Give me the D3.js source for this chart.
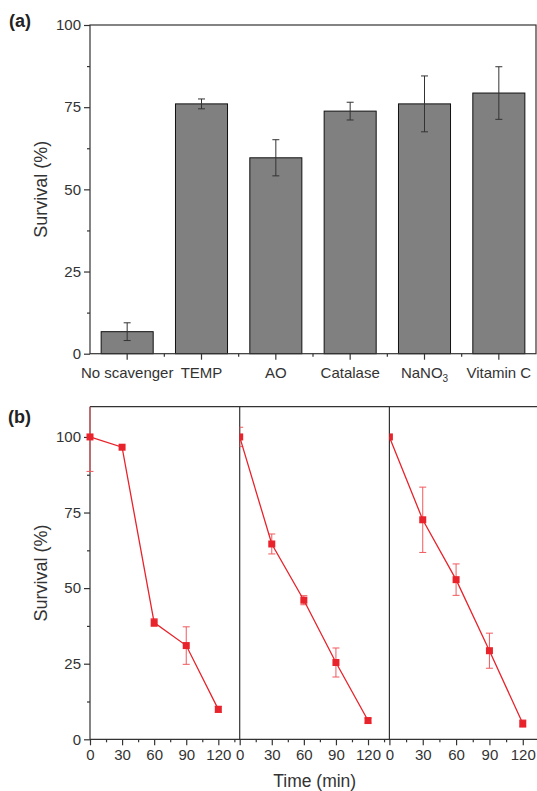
<!DOCTYPE html>
<html><head><meta charset="utf-8">
<script src="https://cdn.jsdelivr.net/npm/d3@7"></script>
<style>
html,body{margin:0;padding:0;background:#fff;}
svg text{font-family:"Liberation Sans",Arial,sans-serif;}
</style></head>
<body>
<script>
// ---- Data ----
const categories = ["No scavenger","TEMP","AO","Catalase","NaNO3","Vitamin C"];
const survivalA = [6.7, 76.0, 59.6, 73.8, 76.0, 79.3];
const errorA = [2.7, 1.5, 5.5, 2.7, 8.5, 8.0];
const yTicksA = [0, 25, 50, 75, 100];

const times = [0, 30, 60, 90, 120];
const xTicksB = [0, 30, 60, 90, 120];
const yTicksB = [0, 25, 50, 75, 100];
const series1 = [100, 96.6, 38.6, 31.0, 9.9];
const err1 = [11.4, 0, 1.3, 6.2, 1.0];
const series2 = [100, 64.6, 46.0, 25.4, 6.2];
const err2 = [3.2, 3.3, 1.5, 4.8, 0.8];
const series3 = [100, 72.6, 52.8, 29.3, 5.2];
const err3 = [0, 10.8, 5.2, 5.8, 1.2];

const W = 537, H = 791;
const svg = d3.select("body").append("svg").attr("width", W).attr("height", H);
const axisColor = "#333";
const textColor = "#333";
const fs = 15;

// ================= Panel (a) =================
const A = {left: 90, right: 536, top: 25, bottom: 353.7};
const xA = d3.scaleBand().domain(categories).range([A.left, A.right]).paddingInner(0.3).paddingOuter(0.15);
const yA = d3.scaleLinear().domain([0, 100]).range([A.bottom, A.top]);

const gA = svg.append("g");
gA.selectAll("rect.bar").data(categories).join("rect")
  .attr("x", d => xA(d)).attr("width", xA.bandwidth())
  .attr("y", (d, i) => yA(survivalA[i]))
  .attr("height", (d, i) => yA(0) - yA(survivalA[i]))
  .attr("fill", "#808080").attr("stroke", "#111").attr("stroke-width", 1);
categories.forEach((c, i) => {
  const cx = xA(c) + xA.bandwidth() / 2;
  const y1 = yA(survivalA[i] + errorA[i]), y2 = yA(survivalA[i] - errorA[i]);
  gA.append("line").attr("x1", cx).attr("x2", cx).attr("y1", y1).attr("y2", y2).attr("stroke", "#333").attr("stroke-width", 1);
  [y1, y2].forEach(y => gA.append("line").attr("x1", cx - 3.5).attr("x2", cx + 3.5).attr("y1", y).attr("y2", y).attr("stroke", "#333").attr("stroke-width", 1));
});
gA.append("rect").attr("x", A.left).attr("y", A.top).attr("width", A.right - A.left).attr("height", A.bottom - A.top)
  .attr("fill", "none").attr("stroke", axisColor).attr("stroke-width", 1.2);
const yAxisA = gA.append("g").attr("transform", `translate(${A.left},0)`)
  .call(d3.axisLeft(yA).tickValues(yTicksA).tickSize(6).tickPadding(3));
yAxisA.select(".domain").remove();
yAxisA.selectAll("line").attr("stroke", axisColor).attr("stroke-width", 1.2);
yAxisA.selectAll("text").attr("font-size", fs).attr("fill", textColor).style("font-family", '"Liberation Sans",Arial,sans-serif');
const yMinorA = gA.append("g").attr("transform", `translate(${A.left},0)`)
  .call(d3.axisLeft(yA).tickValues([12.5, 37.5, 62.5, 87.5]).tickSize(3).tickFormat(""));
yMinorA.select(".domain").remove();
yMinorA.selectAll("line").attr("stroke", axisColor).attr("stroke-width", 1.2);
const xAxisA = gA.append("g").attr("transform", `translate(0,${A.bottom})`)
  .call(d3.axisBottom(xA).tickSize(6).tickPadding(5).tickFormat(""));
xAxisA.select(".domain").remove();
xAxisA.selectAll("line").attr("stroke", axisColor).attr("stroke-width", 1.2);
const boundaries = categories.slice(1).map(c => xA(c) - xA.step() * xA.paddingInner() / 2);
gA.selectAll("line.minor").data(boundaries).join("line")
  .attr("x1", d => d).attr("x2", d => d).attr("y1", A.bottom).attr("y2", A.bottom + 3)
  .attr("stroke", axisColor).attr("stroke-width", 1.2);
categories.forEach(c => {
  const cx = xA(c) + xA.bandwidth() / 2;
  const t = gA.append("text").attr("x", cx).attr("y", A.bottom + 24.5).attr("text-anchor", "middle")
    .attr("font-size", fs).attr("fill", textColor);
  if (c === "NaNO3") {
    t.append("tspan").text("NaNO");
    t.append("tspan").text("3").attr("font-size", 10).attr("dy", 4);
  } else t.text(c);
});
gA.append("text").attr("transform", `translate(47,${(A.top + A.bottom) / 2}) rotate(-90)`)
  .attr("text-anchor", "middle").attr("font-size", 18).attr("fill", textColor).text("Survival (%)");
gA.append("text").attr("x", 9).attr("y", 27).attr("font-size", 18).attr("font-weight", "bold").attr("fill", "#222").text("(a)");

// ================= Panel (b) =================
const B = {top: 406.7, bottom: 739.3};
const panels = [
  {x0: 90, x1: 239.7, clipLeft: 84, data: series1, err: err1},
  {x0: 239.7, x1: 389.4, clipLeft: 239.7, data: series2, err: err2},
  {x0: 389.4, x1: 545, clipLeft: 389.4, data: series3, err: err3}
];
const yB = d3.scaleLinear().domain([0, 110]).range([B.bottom, B.top]);
const gB = svg.append("g");
const red = "#e8232b", redLight = "#f0595e";

gB.append("line").attr("x1", 90).attr("x2", W).attr("y1", B.top).attr("y2", B.top).attr("stroke", axisColor).attr("stroke-width", 1.2);
gB.append("line").attr("x1", 90).attr("x2", W).attr("y1", B.bottom).attr("y2", B.bottom).attr("stroke", axisColor).attr("stroke-width", 1.2);

// y axis (b)
const yAxisB = gB.append("g").attr("transform", `translate(90,0)`)
  .call(d3.axisLeft(yB).tickValues(yTicksB).tickSize(6).tickPadding(3));
yAxisB.select(".domain").remove();
yAxisB.selectAll("line").attr("stroke", axisColor).attr("stroke-width", 1.2);
yAxisB.selectAll("text").attr("font-size", fs).attr("fill", textColor).style("font-family", '"Liberation Sans",Arial,sans-serif');
const yMinorB = gB.append("g").attr("transform", `translate(90,0)`)
  .call(d3.axisLeft(yB).tickValues([12.5, 37.5, 62.5, 87.5]).tickSize(3).tickFormat(""));
yMinorB.select(".domain").remove();
yMinorB.selectAll("line").attr("stroke", axisColor).attr("stroke-width", 1.2);

panels.forEach((p, pi) => {
  const x = d3.scaleLinear().domain([0, 140]).range([p.x0, p.x1]);
  const g = gB.append("g");
  const clipId = "clip" + pi;
  g.append("clipPath").attr("id", clipId).append("rect")
    .attr("x", p.clipLeft).attr("y", B.top).attr("width", p.x1 - p.clipLeft).attr("height", B.bottom - B.top);
  g.append("line").attr("x1", p.x0).attr("x2", p.x0).attr("y1", B.top).attr("y2", B.bottom).attr("stroke", axisColor).attr("stroke-width", 1.2);
  const xa = g.append("g").attr("transform", `translate(0,${B.bottom})`)
    .call(d3.axisBottom(x).tickValues(xTicksB).tickSize(6).tickPadding(4));
  xa.select(".domain").remove();
  xa.selectAll("line").attr("stroke", axisColor).attr("stroke-width", 1.2);
  xa.selectAll("text").attr("font-size", fs).attr("fill", textColor).style("font-family", '"Liberation Sans",Arial,sans-serif');
  const xm = g.append("g").attr("transform", `translate(0,${B.bottom})`)
    .call(d3.axisBottom(x).tickValues([15, 45, 75, 105, 135]).tickSize(3).tickFormat(""));
  xm.select(".domain").remove();
  xm.selectAll("line").attr("stroke", axisColor).attr("stroke-width", 1.2);

  const pg = g.append("g").attr("clip-path", `url(#${clipId})`);
  times.forEach((t, i) => {
    if (!p.err[i]) return;
    const cx = x(t), y1 = yB(p.data[i] + p.err[i]), y2 = yB(p.data[i] - p.err[i]);
    pg.append("line").attr("x1", cx).attr("x2", cx).attr("y1", y1).attr("y2", y2).attr("stroke", redLight).attr("stroke-width", 1);
    [y1, y2].forEach(y => pg.append("line").attr("x1", cx - 3.5).attr("x2", cx + 3.5).attr("y1", y).attr("y2", y).attr("stroke", redLight).attr("stroke-width", 1));
  });
  const line = d3.line().x((d, i) => x(times[i])).y(d => yB(d));
  pg.append("path").datum(p.data).attr("d", line).attr("fill", "none").attr("stroke", red).attr("stroke-width", 1.3);
  pg.selectAll("rect.m").data(p.data).join("rect")
    .attr("x", (d, i) => x(times[i]) - 3.5).attr("y", d => yB(d) - 3.5)
    .attr("width", 7).attr("height", 7).attr("fill", red);
});

gB.append("text").attr("transform", `translate(47,${(B.top + B.bottom) / 2}) rotate(-90)`)
  .attr("text-anchor", "middle").attr("font-size", 18).attr("fill", textColor).text("Survival (%)");
gB.append("text").attr("x", 314.7).attr("y", 787).attr("text-anchor", "middle")
  .attr("font-size", 17.5).attr("fill", textColor).text("Time (min)");
gB.append("text").attr("x", 8).attr("y", 423).attr("font-size", 18).attr("font-weight", "bold").attr("fill", "#222").text("(b)");
</script>
</body></html>
